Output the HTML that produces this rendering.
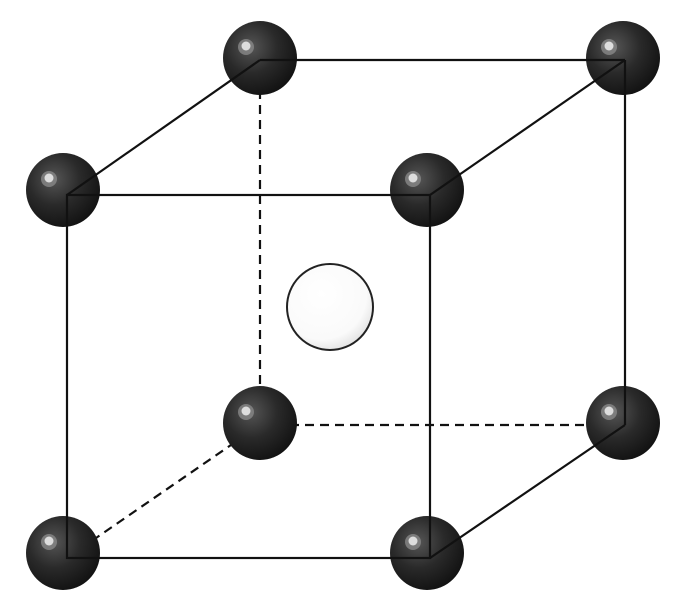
<!DOCTYPE html>
<html><head><style>html,body{margin:0;padding:0;background:#fff;}</style></head>
<body>
<svg width="680" height="608" viewBox="0 0 680 608" xmlns="http://www.w3.org/2000/svg">
<defs>
<radialGradient id="b" cx="0.38" cy="0.35" r="0.7">
<stop offset="0" stop-color="#555"/>
<stop offset="0.5" stop-color="#2a2a2a"/>
<stop offset="1" stop-color="#111"/>
</radialGradient>
<radialGradient id="w" cx="0.4" cy="0.35" r="0.75">
<stop offset="0" stop-color="#fff"/>
<stop offset="0.7" stop-color="#fafafa"/>
<stop offset="1" stop-color="#d8d8d8"/>
</radialGradient>
<g id="ball">
<circle r="37" fill="url(#b)"/>
<circle cx="-14" cy="-11" r="8" fill="#888" opacity="0.8"/>
<circle cx="-14" cy="-12" r="4.5" fill="#ddd"/>
</g>
</defs>
<g stroke="#111" stroke-width="2.2" fill="none">
<line x1="260" y1="60" x2="260" y2="425" stroke-dasharray="9,6"/>
<line x1="260" y1="425" x2="625" y2="425" stroke-dasharray="9,6"/>
<line x1="260" y1="425" x2="67" y2="558" stroke-dasharray="9,6"/>
</g>
<circle cx="330" cy="307" r="43" fill="url(#w)" stroke="#222" stroke-width="2"/>
<use href="#ball" x="260" y="58"/>
<use href="#ball" x="623" y="58"/>
<use href="#ball" x="260" y="423"/>
<use href="#ball" x="623" y="423"/>
<use href="#ball" x="63" y="190"/>
<use href="#ball" x="427" y="190"/>
<use href="#ball" x="63" y="553"/>
<use href="#ball" x="427" y="553"/>
<g stroke="#111" stroke-width="2.2" fill="none">
<line x1="260" y1="60" x2="625" y2="60"/>
<line x1="625" y1="60" x2="625" y2="425"/>
<line x1="67" y1="195" x2="260" y2="60"/>
<line x1="430" y1="195" x2="625" y2="60"/>
<line x1="430" y1="558" x2="625" y2="425"/>
<rect x="67" y="195" width="363" height="363"/>
</g>
</svg>
</body></html>
